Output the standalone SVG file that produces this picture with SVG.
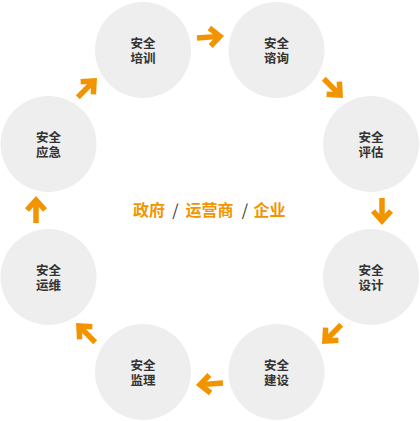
<svg xmlns="http://www.w3.org/2000/svg" width="420" height="421" viewBox="0 0 420 421">
<style>
.node circle{fill:#eeeeee}
.node text{font-family:"Noto Sans CJK SC","Noto Sans",sans-serif;font-size:12.5px;font-weight:bold;fill:#333;text-anchor:middle}
.hub{font-family:"Noto Sans CJK SC","Noto Sans",sans-serif;font-size:16px;font-weight:bold;fill:#f29400}
.sl{font-family:"Noto Sans CJK SC","Noto Sans",sans-serif;font-size:16px;fill:#333;text-anchor:middle}
</style>
<defs>
<path id="arr" d="M-13,0 H9 M0,-9 L10,0 L0,9" fill="none" stroke="#f29400" stroke-width="5.5" stroke-miterlimit="10"/>
</defs>
<rect width="420" height="421" fill="#fff"/>
<g id="n1" class="node"><circle cx="143" cy="50" r="48"/><text><tspan x="143" y="48">安全</tspan><tspan x="143" y="63">培训</tspan></text></g>
<g id="n2" class="node"><circle cx="276.5" cy="50" r="48"/><text><tspan x="276.5" y="48">安全</tspan><tspan x="276.5" y="63">谘询</tspan></text></g>
<g id="n3" class="node"><circle cx="371" cy="144" r="48"/><text><tspan x="371" y="142">安全</tspan><tspan x="371" y="157">评估</tspan></text></g>
<g id="n4" class="node"><circle cx="371" cy="277" r="48"/><text><tspan x="371" y="275">安全</tspan><tspan x="371" y="290">设计</tspan></text></g>
<g id="n5" class="node"><circle cx="276.5" cy="372" r="48"/><text><tspan x="276.5" y="370">安全</tspan><tspan x="276.5" y="385">建设</tspan></text></g>
<g id="n6" class="node"><circle cx="143" cy="372" r="48"/><text><tspan x="143" y="370">安全</tspan><tspan x="143" y="385">监理</tspan></text></g>
<g id="n7" class="node"><circle cx="48.5" cy="277" r="48"/><text><tspan x="48.5" y="275">安全</tspan><tspan x="48.5" y="290">运维</tspan></text></g>
<g id="n8" class="node"><circle cx="48.5" cy="144" r="48"/><text><tspan x="48.5" y="142">安全</tspan><tspan x="48.5" y="157">应急</tspan></text></g>
<g id="hub">
<text class="hub" x="133" y="216">政府</text>
<text class="sl" x="175.5" y="216">/</text>
<text class="hub" x="185.5" y="216">运营商</text>
<text class="sl" x="245" y="216">/</text>
<text class="hub" x="253.5" y="216">企业</text>
</g>
<g id="connectors">
<use href="#arr" transform="translate(210,37) rotate(-4)"/>
<use href="#arr" transform="translate(333,88) rotate(45)"/>
<use href="#arr" transform="translate(382,211) rotate(90)"/>
<use href="#arr" transform="translate(332,334) rotate(135)"/>
<use href="#arr" transform="translate(210,384) rotate(176)"/>
<use href="#arr" transform="translate(86,333) rotate(225)"/>
<use href="#arr" transform="translate(36,210) rotate(270)"/>
<use href="#arr" transform="translate(87,88) rotate(315)"/>
</g>
</svg>
